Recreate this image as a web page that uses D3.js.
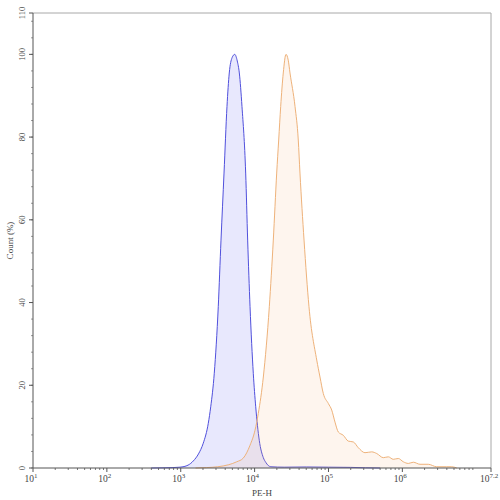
<!DOCTYPE html>
<html>
<head>
<meta charset="utf-8">
<script src="https://cdn.jsdelivr.net/npm/d3@7"></script>
<style>
  body { margin: 0; background: #fff; }
  text { font-family: "Liberation Serif", "DejaVu Serif", serif; fill: #444; }
</style>
</head>
<body>
<div id="vis"></div>
<script>
// chart size
var width = 500;
var height = 500;

var margin = {
    top: 13,
    left: 33,
    right: 9,
    bottom: 32
};

// x positions are log10(PE-H), y values are Count (%)
var blueLog   = [2.6, 2.8, 2.99, 3.10, 3.17, 3.24, 3.305, 3.373, 3.406, 3.454, 3.508, 3.545, 3.586, 3.626, 3.657, 3.695, 3.731, 3.765, 3.793, 3.829, 3.879, 3.906, 3.938, 3.982, 4.015, 4.063, 4.118, 4.150, 4.185, 4.22, 4.4, 4.7, 5.0, 5.3, 5.5, 5.7];
var blueCount = [0,   0.05, 0.2, 0.7,  1.7,  3.4,  6.0,   10.8,  14.8,  22.9,  39.0,  55.1,  71.3,  87.4,  95.5,  99.2,  100,   98.4,  95.5,  87.4,  71.3,  55.1,  39.0,  22.9,  14.8,  6.7,   2.5,   1.4,   0.6,   0.3,  0.2, 0.25, 0.2, 0.15, 0.05, 0];

var orangeLog   = [3.2, 3.35, 3.5, 3.65, 3.758, 3.847, 3.938, 4.005, 4.05, 4.118, 4.199, 4.253, 4.299, 4.326, 4.353, 4.388, 4.425, 4.455, 4.479, 4.547, 4.591, 4.614, 4.669, 4.736, 4.841, 4.885, 4.930, 4.998, 5.044, 5.088, 5.133, 5.201, 5.268, 5.336, 5.404, 5.494, 5.585, 5.653, 5.742, 5.810, 5.877, 5.945, 6.013, 6.081, 6.148, 6.239, 6.351, 6.465, 6.600, 6.668, 6.736];
var orangeCount = [0,   0.1,  0.3, 0.8,  1.5,   2.4,   5.5,   9.1,  13.2, 22.0,  39.0,  55.1,  71.3,  79.3,  87.4,  95.5,  100,   98.6,  95.5,  87.4,  79.3,  71.3,  55.1,  39.0,  26.1,  22.0,  18.0,  15.6,  14.0,  11.1,  8.7,   7.9,   6.5,   6.3,   4.9,   3.7,   3.9,   3.5,   2.5,   2.7,   2.1,   2.3,   1.5,   1.1,   1.4,   0.9,   0.9,   0.3,   0.3,   0.3,   0];

// tick values
var xMajorExp = [1, 2, 3, 4, 5, 6, 7.2];
var yMajor = [0, 20, 40, 60, 80, 100, 110];
var yMinor = d3.range(0, 110, 4);

var svg = d3.select("#vis")
    .append("svg")
    .attr("width", width)
    .attr("height", height);

var w = width - margin.left - margin.right;
var h = height - margin.top - margin.bottom;

var g = svg.append("g")
    .attr("transform", "translate(" + margin.left + "," + margin.top + ")");

var xscale = d3.scaleLog()
    .domain([10, Math.pow(10, 7.2)])
    .range([0, w]);

var yscale = d3.scaleLinear()
    .domain([0, 110])
    .range([h, 0]);

// histogram areas
function drawHist(logs, counts, stroke, fill, fillOpacity) {
    var pts = logs.map(function(d, i) { return [Math.pow(10, d), counts[i]]; });

    var area = d3.area()
        .x(function(d) { return xscale(d[0]); })
        .y0(yscale(0))
        .y1(function(d) { return yscale(d[1]); })
        .curve(d3.curveMonotoneX);

    var line = d3.line()
        .x(function(d) { return xscale(d[0]); })
        .y(function(d) { return yscale(d[1]); })
        .curve(d3.curveMonotoneX);

    g.append("path")
        .datum(pts)
        .attr("d", area)
        .attr("fill", fill)
        .attr("fill-opacity", fillOpacity);

    g.append("path")
        .datum(pts)
        .attr("d", line)
        .attr("fill", "none")
        .attr("stroke", stroke)
        .attr("stroke-width", 1);
}

drawHist(blueLog, blueCount, "#5050dc", "#6464f0", 0.15);
drawHist(orangeLog, orangeCount, "#eeb27a", "#f5b070", 0.12);

// frame: top and right lighter
g.append("line").attr("x1", 0).attr("x2", w).attr("y1", 0).attr("y2", 0)
    .attr("stroke", "#a8a8a8");
g.append("line").attr("x1", w).attr("x2", w).attr("y1", 0).attr("y2", h)
    .attr("stroke", "#a8a8a8");

// x axis
var xaxis = g.append("g")
    .attr("transform", "translate(0," + h + ")");

var xMinor = [];
for (var e = 1; e < 8; e++) {
    for (var m = 2; m < 10; m++) {
        var v = m * Math.pow(10, e);
        if (v < Math.pow(10, 7.2)) xMinor.push(v);
    }
}

xaxis.selectAll(".xminor")
    .data(xMinor)
    .enter().append("line")
    .attr("x1", function(d) { return xscale(d); })
    .attr("x2", function(d) { return xscale(d); })
    .attr("y1", 0).attr("y2", 2)
    .attr("stroke", "#777");

xaxis.selectAll(".xmajor")
    .data(xMajorExp)
    .enter().append("line")
    .attr("x1", function(d) { return xscale(Math.pow(10, d)); })
    .attr("x2", function(d) { return xscale(Math.pow(10, d)); })
    .attr("y1", 0).attr("y2", 4)
    .attr("stroke", "#555");

var xl = xaxis.selectAll(".xlabel")
    .data(xMajorExp)
    .enter().append("text")
    .attr("x", function(d) { return xscale(Math.pow(10, d)) - 2; })
    .attr("y", 14)
    .attr("text-anchor", "middle")
    .style("font-size", "9.5px");
xl.append("tspan").text("10");
xl.append("tspan")
    .attr("dy", -4)
    .style("font-size", "7px")
    .text(function(d) { return d; });

xaxis.append("line")
    .attr("x1", 0).attr("x2", w)
    .attr("stroke", "#555");

// y axis
var yaxis = g.append("g");

yaxis.selectAll(".yminor")
    .data(yMinor)
    .enter().append("line")
    .attr("x1", -2).attr("x2", 0)
    .attr("y1", function(d) { return yscale(d); })
    .attr("y2", function(d) { return yscale(d); })
    .attr("stroke", "#999");

yaxis.selectAll(".ymajor")
    .data(yMajor)
    .enter().append("line")
    .attr("x1", -4).attr("x2", 0)
    .attr("y1", function(d) { return yscale(d); })
    .attr("y2", function(d) { return yscale(d); })
    .attr("stroke", "#555");

yaxis.selectAll(".ylabel")
    .data(yMajor)
    .enter().append("text")
    .attr("transform", function(d) {
        return "translate(-8," + yscale(d) + ") rotate(-90)";
    })
    .attr("text-anchor", "middle")
    .style("font-size", "8.5px")
    .text(function(d) { return d; });

yaxis.append("line")
    .attr("y1", 0).attr("y2", h)
    .attr("stroke", "#555");

// axis titles
svg.append("text")
    .attr("transform", "translate(13," + (margin.top + h / 2) + ") rotate(-90)")
    .attr("text-anchor", "middle")
    .style("font-size", "9px")
    .text("Count  (%)");

svg.append("text")
    .attr("x", margin.left + w / 2)
    .attr("y", 496)
    .attr("text-anchor", "middle")
    .style("font-size", "9px")
    .text("PE-H");
</script>
</body>
</html>
